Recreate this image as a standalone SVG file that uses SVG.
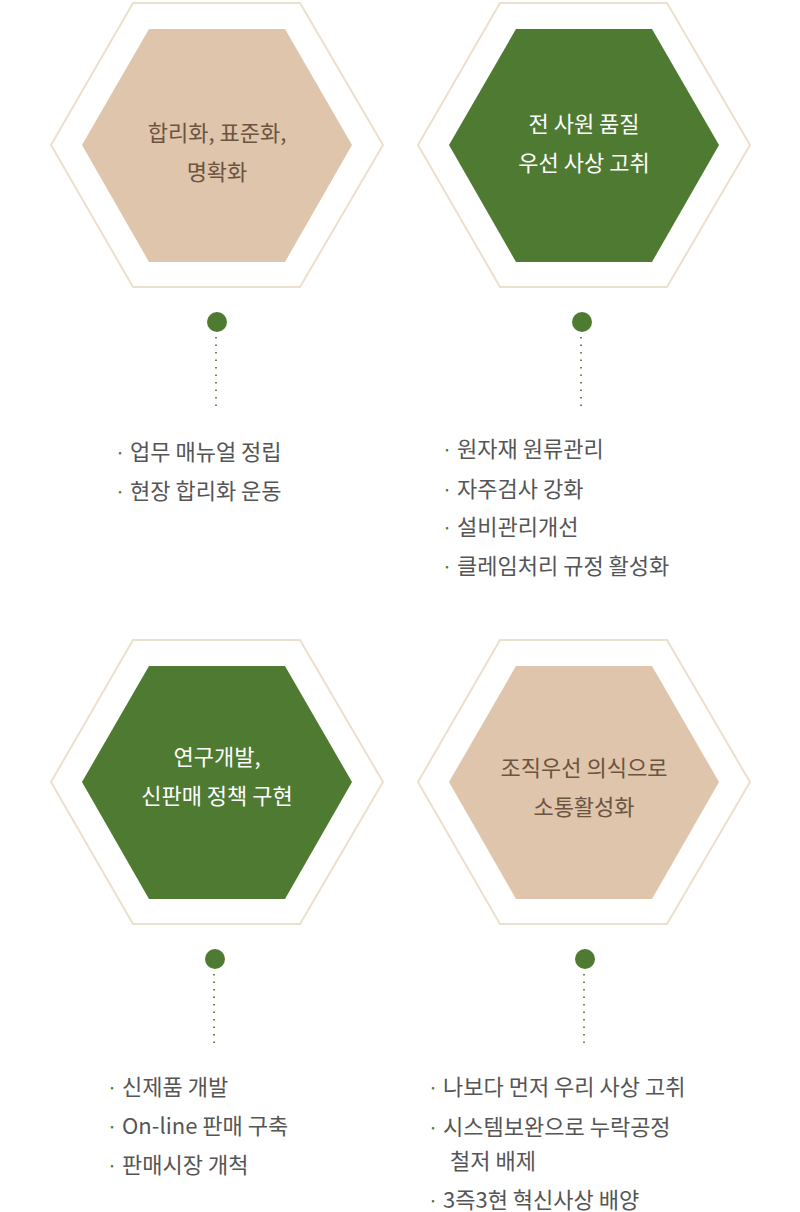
<svg xmlns="http://www.w3.org/2000/svg" width="800" height="1212" viewBox="0 0 800 1212">
<style>
.outer{fill:#fff;stroke:#ecdfcd;stroke-width:2}
.tan{fill:#dfc5ab}.grn{fill:#4e7a32}
.t{font-family:"Noto Sans CJK KR","Noto Sans",sans-serif;font-size:22px;text-anchor:middle}
.tt{fill:#6b5440}.tw{fill:#fff}
.li{font-family:"Noto Sans CJK KR","Noto Sans",sans-serif;font-size:22px;fill:#555}
.b{fill:#4e7a32;font-size:18px}
.dot{fill:#4e7a32}
.dl{stroke:#6a8a4a;stroke-width:2;stroke-dasharray:1.5 6}
</style>
<rect width="800" height="1212" fill="#fff"/>
<g id="n1">
<polygon class="outer" points="51,145 133,3 300,3 383,145 300,287 133,287"/>
<polygon class="tan" points="82,145 149,29 285,29 352,145 285,262 149,262"/>
<text class="t tt" x="217" y="141">합리화, 표준화,</text>
<text class="t tt" x="217" y="180">명확화</text>
</g>
<g id="n2">
<polygon class="outer" points="418,145 500,3 667,3 750,145 667,287 500,287"/>
<polygon class="grn" points="449,145 516,29 652,29 719,145 652,262 516,262"/>
<text class="t tw" x="584" y="132">전 사원 품질</text>
<text class="t tw" x="584" y="171">우선 사상 고취</text>
</g>
<g id="n3">
<polygon class="outer" points="51,782 133,640 300,640 383,782 300,924 133,924"/>
<polygon class="grn" points="82,782 149,666 285,666 352,782 285,899 149,899"/>
<text class="t tw" x="217" y="765">연구개발,</text>
<text class="t tw" x="217" y="804">신판매 정책 구현</text>
</g>
<g id="n4">
<polygon class="outer" points="418,782 500,640 667,640 750,782 667,924 500,924"/>
<polygon class="tan" points="449,782 516,666 652,666 719,782 652,899 516,899"/>
<text class="t tt" x="584" y="776">조직우선 의식으로</text>
<text class="t tt" x="584" y="815">소통활성화</text>
</g>
<g id="connectors">
<circle class="dot" cx="217" cy="322" r="10"/><line class="dl" x1="216" y1="337" x2="216" y2="412"/>
<circle class="dot" cx="582" cy="322" r="10"/><line class="dl" x1="581" y1="337" x2="581" y2="412"/>
<circle class="dot" cx="215" cy="959" r="10"/><line class="dl" x1="214" y1="974" x2="214" y2="1048"/>
<circle class="dot" cx="585" cy="959" r="10"/><line class="dl" x1="584" y1="974" x2="584" y2="1048"/>
</g>
<g id="list1" class="li">
<text x="115" y="460"><tspan class="b">·</tspan> 업무 매뉴얼 정립</text>
<text x="115" y="499"><tspan class="b">·</tspan> 현장 합리화 운동</text>
</g>
<g id="list2" class="li">
<text x="442" y="457"><tspan class="b">·</tspan> 원자재 원류관리</text>
<text x="442" y="497"><tspan class="b">·</tspan> 자주검사 강화</text>
<text x="442" y="535"><tspan class="b">·</tspan> 설비관리개선</text>
<text x="442" y="574"><tspan class="b">·</tspan> 클레임처리 규정 활성화</text>
</g>
<g id="list3" class="li">
<text x="107" y="1095"><tspan class="b">·</tspan> 신제품 개발</text>
<text x="107" y="1134"><tspan class="b">·</tspan> On-line 판매 구축</text>
<text x="107" y="1173"><tspan class="b">·</tspan> 판매시장 개척</text>
</g>
<g id="list4" class="li">
<text x="428" y="1095"><tspan class="b">·</tspan> 나보다 먼저 우리 사상 고취</text>
<text x="428" y="1135"><tspan class="b">·</tspan> 시스템보완으로 누락공정</text>
<text x="450" y="1169">철저 배제</text>
<text x="428" y="1208"><tspan class="b">·</tspan> 3즉3현 혁신사상 배양</text>
</g>
</svg>
